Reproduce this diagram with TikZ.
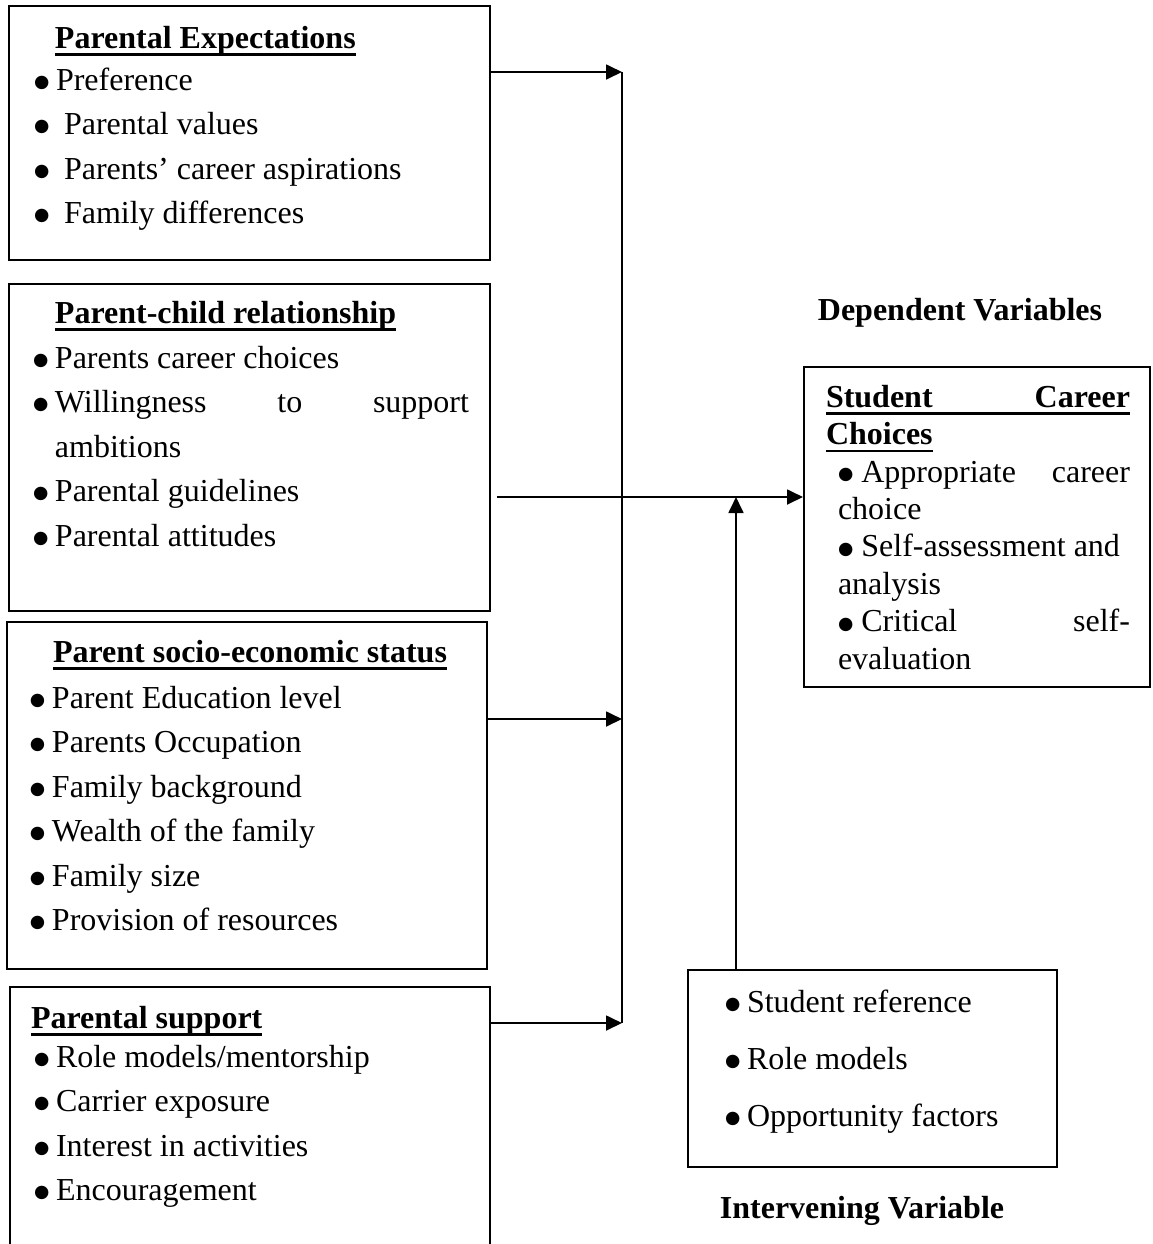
\documentclass[tikz,border=0pt]{standalone}
\usepackage{fontspec}
\setmainfont{Liberation Serif}
\newfontfamily\symfam{DejaVu Sans}
\usetikzlibrary{arrows.meta,positioning,fit}

\newsavebox{\hdbox}
\newcommand{\hd}[1]{\sbox{\hdbox}{\bfseries #1}\usebox{\hdbox}\llap{\rule[-2.9pt]{\wd\hdbox}{0.9pt}}}
\newcommand{\blt}{\raisebox{1.1pt}{\symfam\fontsize{6.6}{6.6}\selectfont ●}}
\newcommand{\bul}{\makebox[8.25pt][l]{\blt}}

\begin{document}
\begin{tikzpicture}[->, >={Triangle[length=6pt,width=5.6pt]}, x=0.375pt, y=-0.375pt,
    line width=0.75pt,
    panel/.style={draw, rectangle, inner sep=0pt},
    heading/.style={anchor=base west, inner sep=0pt, font=\fontsize{12}{14}\selectfont},
    points/.style={anchor=base west, inner sep=0pt, align=justify, font=\fontsize{12}{16.7}\selectfont,
      execute at begin node={\spaceskip=0pt\xspaceskip=0pt\relax}},
    caption/.style={anchor=base, inner sep=0pt, font=\fontsize{12}{14}\selectfont\bfseries}
    ]
\useasboundingbox (0,0) rectangle (1152,1244);
\clip (0,0) rectangle (1152,1244);

% independent variables
\node[panel, fit={(9,6) (490,260)}]      (expect)   {};
\node[panel, fit={(9,284) (490,611)}]    (relation) {};
\node[panel, fit={(7,622) (487,969)}]    (status)   {};
\node[panel, fit={(10,987) (490,1270)}]  (support)  {};
% dependent / intervening
\node[panel, fit={(804,367) (1150,687)}] (choices)  {};
\node[panel, fit={(688,970) (1057,1167)}] (interv)  {};

\node[heading] (expect-hd) at (54,48) {\hd{Parental Expectations}};
\node[points, text width=168pt] (expect-ls) at (33,90)
  {\bul Preference\\ \bul\ Parental values\\ \bul\ Parents’ career aspirations\\ \bul\ Family differences};

\node[heading] (relation-hd) at (54,323) {\hd{Parent-child relationship}};
\node[points, text width=163.5pt] (relation-ls) at (32,368)
  {\bul Parents career choices\\ \bul Willingness\hfill to\hfill support\\ \hspace*{8.25pt}ambitions\\
   \bul Parental guidelines\\ \bul Parental attitudes};

\node[heading] (status-hd) at (52,662) {\hd{Parent socio-economic status}};
\node[points, text width=165pt] (status-ls) at (29,708)
  {\bul Parent Education level\\ \bul Parents Occupation\\ \bul Family background\\
   \bul Wealth of the family\\ \bul Family size\\ \bul Provision of resources};

\node[heading] (support-hd) at (30,1028) {\hd{Parental support}};
\node[points, text width=165pt] (support-ls) at (33,1067)
  {\bul Role models/mentorship\\ \bul Carrier exposure\\ \bul Interest in activities\\ \bul Encouragement};

\node[caption] (dep) at (960,320) {Dependent Variables};
\node[points, text width=114pt, font=\fontsize{12}{14.06}\selectfont] (choices-hd) at (825,407)
  {\hd{\makebox[\linewidth][s]{Student Career}}\\ \hd{Choices}};
\node[points, text width=109.5pt, font=\fontsize{12}{14.06}\selectfont] (choices-ls) at (837,482)
  {\blt\ Appropriate\hfill career\\ choice\\ \blt\ Self-assessment and\\ analysis\\
   \blt\ Critical\hfill self-\\ evaluation};

\node[points, text width=125pt, font=\fontsize{12}{21.4}\selectfont] (interv-ls) at (724,1012)
  {\bul Student reference\\ \bul Role models\\ \bul Opportunity factors};
\node[caption] (intv) at (862,1218) {Intervening Variable};

% connectors
\coordinate (s1) at (622,72);
\coordinate (s2) at (622,719);
\coordinate (s3) at (622,1023);
\coordinate (tap) at (497,497);
\coordinate (riser) at (736,497);

\draw[-] (s1) -- (s3);
\path
(expect.east |- s1)   edge (s1)
(status.east |- s2)   edge (s2)
(support.east |- s3)  edge (s3)
(tap)                 edge (tap -| choices.west)
(riser |- interv.north) edge (riser)
;
\end{tikzpicture}
\end{document}
